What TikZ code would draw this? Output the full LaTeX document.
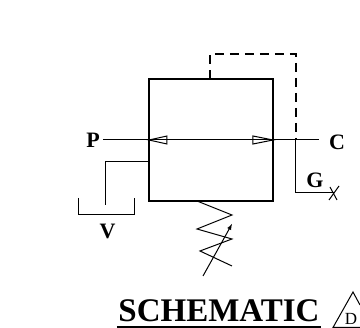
\documentclass[tikz,border=0pt]{standalone}
\usepackage{fontspec}
\setmainfont{Liberation Serif}
\usepackage{tikz}
\usetikzlibrary{positioning}
\tikzset{
  wire/.style={line width=1pt},
  body/.style={line width=1.4pt},
  pilot/.style={line width=1.2pt, dash pattern=on 9pt off 6pt},
  portlabel/.style={font=\bfseries\fontsize{22}{22}\selectfont, inner sep=0pt, anchor=base},
}

\begin{document}
\begin{tikzpicture}[x=1pt,y=-1pt]
    \useasboundingbox (0,0) rectangle (360,328);

    % Valve body
    \draw[body] (149,79) rectangle (273,201);

    % Ports
    \node[portlabel] (portp) at (93,148) {P};
    \node[portlabel] (portc) at (337,150) {C};
    \node[portlabel] (portg) at (315,188) {G};
    \node[portlabel] (portv) at (107.5,239) {V};
    \coordinate (pend) at (103,140);
    \coordinate (cend) at (319,140);
    \draw[wire] (pend) -- (cend);

    % Flow arrows
    \draw[wire] (149,140) -- (167,136) -- (167,144) -- cycle;
    \draw[wire] (273,140) -- (253,136) -- (253,144) -- cycle;

    % Pilot line
    \coordinate (pilottop) at (210,79);
    \coordinate (pilotjoin) at (296,140);
    \coordinate (gauge) at (334,193);
    \draw[pilot] (pilottop) -- (210,54) -- (296,54) -- (pilotjoin);
    \draw[wire] (pilotjoin) -- (296,193) -- (gauge);
    \draw[wire] (329,200) -- (339,186);
    \draw[wire] (330,187) -- (337,200);

    % Drain and tank
    \coordinate (drain) at (149,162);
    \draw[wire] (drain) -- (106,162) -- (106,205);
    \draw[wire] (79,198) -- (79,215) -- (135,215) -- (135,198);

    % Spring
    \draw[wire] (197,201) -- (232,215) -- (197,229) -- (232,239) -- (200,251) -- (232,266);
    \draw[wire,-latex] (203,276) -- (232,224);

    % Title
    \node[font=\bfseries\fontsize{33}{33}\selectfont, inner sep=0pt, anchor=base] (title) at (219,322) {SCHEMATIC};
    \coordinate (titlel) at (117,327);
    \coordinate (titler) at (321,327);
    \draw[line width=1.3pt] (titlel) -- (titler);
    \draw[wire] (360,305) -- (353,292) -- (333,327.5) -- (360,327.5);
    \node[font=\fontsize{17}{17}\selectfont, inner sep=0pt, anchor=base] (rev) at (351,325) {D};
\end{tikzpicture}
\end{document}
